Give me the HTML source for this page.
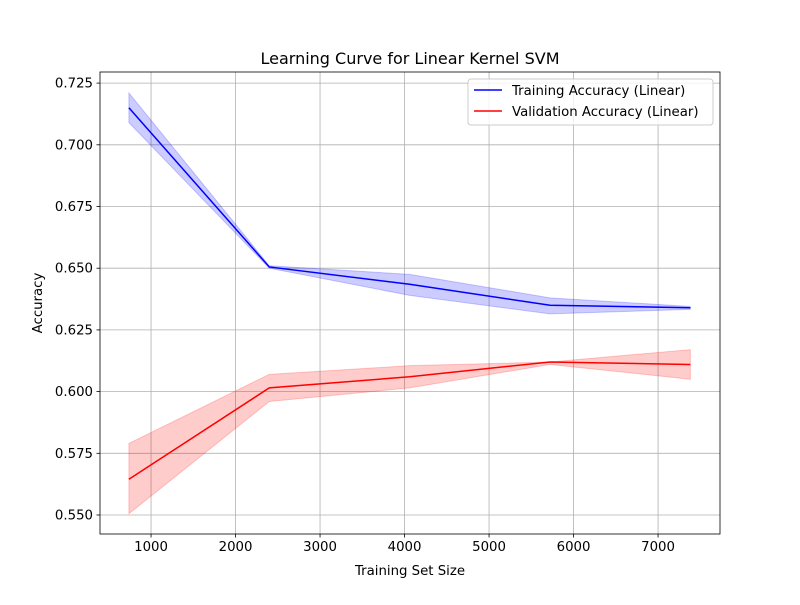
<!DOCTYPE html>
<html><head><meta charset="utf-8"><style>
body{margin:0;background:#fff;font-family:"Liberation Sans","DejaVu Sans",sans-serif}
svg text{font-family:"DejaVu Sans","Liberation Sans",sans-serif;fill:#000}
</style></head><body>
<svg id="chart" width="800" height="600" xmlns="http://www.w3.org/2000/svg"></svg>
<script>
const trainSizes=[738,2399,4060,5721,7382];
const trainMean=[0.715,0.6505,0.6435,0.635,0.634];
const trainUpper=[0.721,0.651,0.6475,0.638,0.6345];
const trainLower=[0.709,0.650,0.639,0.6315,0.6333];
const valMean=[0.5645,0.6015,0.606,0.612,0.611];
const valUpper=[0.579,0.607,0.6105,0.612,0.617];
const valLower=[0.5505,0.596,0.6015,0.611,0.605];
const xTicks=[1000,2000,3000,4000,5000,6000,7000];
const yTicks=[0.550,0.575,0.600,0.625,0.650,0.675,0.700,0.725];

const L=100,R=720,T=72,B=534;
const xMin=396,xMax=7733,yMin=0.5423,yMax=0.7295;
const sx=v=>L+(v-xMin)/(xMax-xMin)*(R-L);
const sy=v=>B-(v-yMin)/(yMax-yMin)*(B-T);
const svg=document.getElementById('chart');
const NS='http://www.w3.org/2000/svg';
function mk(tag,attrs,parent){const e=document.createElementNS(NS,tag);for(const k in attrs)e.setAttribute(k,attrs[k]);(parent||svg).appendChild(e);return e;}

// grid
xTicks.forEach(t=>{const l=mk('line',{x1:sx(t),x2:sx(t),y1:T,y2:B,stroke:'#b0b0b0','stroke-width':0.8});

});
yTicks.forEach(t=>{const l=mk('line',{x1:L,x2:R,y1:sy(t),y2:sy(t),stroke:'#b0b0b0','stroke-width':0.8});

});

function band(up,lo,color,name){
 let d='M'+trainSizes.map((x,i)=>sx(x)+','+sy(up[i])).join('L');
 d+='L'+trainSizes.map((x,i)=>sx(x)+','+sy(lo[i])).reverse().join('L')+'Z';
 const p=mk('path',{d:d,fill:color,'fill-opacity':0.2,stroke:color,'stroke-opacity':0.2});
 
 
}
function line(vals,color,name){
 const p=mk('polyline',{points:trainSizes.map((x,i)=>sx(x)+','+sy(vals[i])).join(' '),fill:'none',stroke:color,'stroke-width':1.5});
 
 
}
band(trainUpper,trainLower,'#0000ff','training-band');
band(valUpper,valLower,'#ff0000','validation-band');
line(trainMean,'#0000ff','training-line');
line(valMean,'#ff0000','validation-line');

// axes frame
const fr=mk('rect',{x:L,y:T,width:R-L,height:B-T,fill:'none',stroke:'#000','stroke-width':0.8});



xTicks.forEach(t=>{mk('line',{x1:sx(t),x2:sx(t),y1:B,y2:B+3.5,stroke:'#000','stroke-width':0.8});
 const tx=mk('text',{x:sx(t),y:B+17,'text-anchor':'middle','font-size':'13.3'});tx.textContent=t;
 
 });
yTicks.forEach(t=>{mk('line',{x1:L-3.5,x2:L,y1:sy(t),y2:sy(t),stroke:'#000','stroke-width':0.8});
 const tx=mk('text',{x:L-7,y:sy(t)+4.5,'text-anchor':'end','font-size':'13.3'});tx.textContent=t.toFixed(3);
 
 });

let t=mk('text',{x:410,y:575,'text-anchor':'middle','font-size':'13.3'});t.textContent='Training Set Size';


t=mk('text',{x:42,y:303,'text-anchor':'middle','font-size':'13.3',transform:'rotate(-90 42 303)'});t.textContent='Accuracy';


t=mk('text',{x:410,y:64,'text-anchor':'middle','font-size':'16'});t.textContent='Learning Curve for Linear Kernel SVM';



// legend
const lg=mk('g',{});


mk('rect',{x:468,y:79,width:245,height:46,rx:3,fill:'#fff','fill-opacity':0.8,stroke:'#ccc'},lg);
mk('line',{x1:474,x2:502,y1:90,y2:90,stroke:'#0000ff','stroke-width':1.5},lg);
mk('line',{x1:474,x2:502,y1:111,y2:111,stroke:'#ff0000','stroke-width':1.5},lg);
t=mk('text',{x:512,y:95,'font-size':'13.3'},lg);t.textContent='Training Accuracy (Linear)';


t=mk('text',{x:512,y:116,'font-size':'13.3'},lg);t.textContent='Validation Accuracy (Linear)';


</script>
</body></html>
